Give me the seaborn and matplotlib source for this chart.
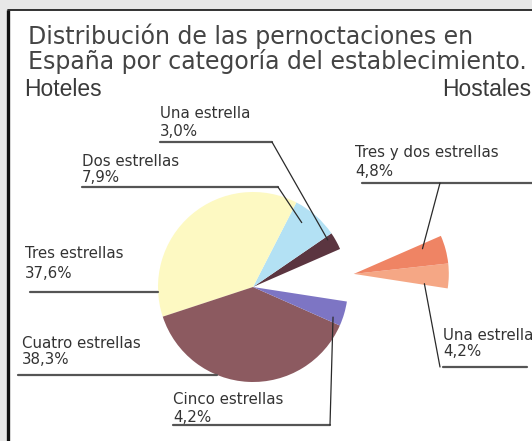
import matplotlib
matplotlib.use("Agg")
import matplotlib.pyplot as plt
from matplotlib.patches import Rectangle
import seaborn as sns
import numpy as np

# ---------------- data ----------------
title_lines = ["Distribución de las pernoctaciones en",
               "España por categoría del establecimiento."]
group_titles = ["Hoteles", "Hostales"]
categories = ["Una estrella", "Tres y dos estrellas", "Una estrella",
              "Dos estrellas", "Tres estrellas", "Cuatro estrellas",
              "Cinco estrellas"]
groups = ["Hostales", "Hostales", "Hoteles", "Hoteles", "Hoteles",
          "Hoteles", "Hoteles"]
shares = [4.2, 4.8, 3.0, 7.9, 37.6, 38.3, 4.2]
colors = ["#f5a785", "#ef8464", "#5b3540", "#b3e1f4", "#fdf9c2",
          "#8c5a60", "#7d75c4"]

# ---------------- figure ----------------
sns.set_theme(style="white")
plt.rcParams["font.family"] = ["DejaVu Sans"]
W, H = 532, 441
fig = plt.figure(figsize=(W / 100, H / 100), dpi=100)
fig.patch.set_facecolor("#e8e8e8")
ax = fig.add_axes([0, 0, 1, 1])
ax.set_facecolor("none")


def Y(y):
    return H - y


# white panel with dark frame (left/top)
ax.add_patch(Rectangle((8, 0), W - 8, Y(10), fc="white", ec="none", zorder=0))
ax.plot([8, 8], [0, Y(10)], color="#111111", lw=2.4, zorder=1,
        solid_capstyle="butt")
ax.plot([8, W], [Y(10), Y(10)], color="#222222", lw=1.3, zorder=1)

# pie
cx, cy, R = 253, Y(287), 95
start = -8.8
wedges, _ = ax.pie(shares, colors=colors, startangle=start, radius=R,
                   center=(cx, cy), counterclock=True, frame=True,
                   wedgeprops=dict(linewidth=0))
# pull the two hostal slices out together to the right
hostal_idx = [i for i, g in enumerate(groups) if g == "Hostales"]
frac = sum(shares[i] for i in hostal_idx) / sum(shares)
mid = np.deg2rad(start + frac * 360 / 2)
off = 1.07 * R
for i in hostal_idx:
    wedges[i].set_center((cx + off * np.cos(mid), cy + off * np.sin(mid)))

ax.set_xlim(0, W)
ax.set_ylim(0, H)
ax.set_aspect("equal")
ax.axis("off")


def anchor(i, t, rf):
    w = wedges[i]
    th = np.deg2rad(w.theta1 + t * (w.theta2 - w.theta1))
    c = w.center
    return c[0] + rf * w.r * np.cos(th), c[1] + rf * w.r * np.sin(th)


def edge_x(yimg):
    dy = Y(yimg) - cy
    return cx - np.sqrt(max(R ** 2 - dy ** 2, 0))


def pct(v):
    return f"{v:.1f}".replace(".", ",") + "%"


# titles
tcol = "#444444"
ax.text(28, Y(36), title_lines[0], fontsize=17, color=tcol, va="center",
        ha="left")
ax.text(28, Y(62), title_lines[1], fontsize=17, color=tcol, va="center",
        ha="left")
ax.text(24, Y(89), group_titles[0], fontsize=16.5, color="#3a3a3a",
        va="center", ha="left", family=["Liberation Sans", "DejaVu Sans"])
ax.text(531, Y(89), group_titles[1], fontsize=16.5, color="#3a3a3a",
        va="center", ha="right", family=["Liberation Sans", "DejaVu Sans"])

lcol = "#333333"
ucol = "#555555"
fs = 10.8
# label specs: idx, text x, name y, pct y, underline y, underline x0,
#              elbow x (None -> horizontal to pie edge), t, rf
specs = [
    (2, 160, 114, 132, 142, 160, 272, 0.8, 0.93),
    (3, 82, 162, 178, 187, 82, 278, 0.65, 0.85),
    (4, 25, 254, 273, 292, 30, None, None, None),
    (5, 22, 343, 359, 375, 18, None, None, None),
    (6, 173, 400, 417, 425, 173, 330, 0.22, 0.9),
    (1, 355, 153, 172, 183, 362, 440, 0.8, 0.77),
    (0, 443, 335, 352, 367, 443, 440, 0.06, 0.75),
]
for idx, tx, ny, py, uy, ux0, ex, t, rf in specs:
    ax.text(tx, Y(ny), categories[idx], fontsize=fs, color=lcol,
            va="center", ha="left")
    ax.text(tx, Y(py), pct(shares[idx]), fontsize=fs, color=lcol,
            va="center", ha="left")
    if ex is None:
        ax.plot([ux0, edge_x(uy)], [Y(uy), Y(uy)], color=ucol, lw=1.6,
                zorder=3)
    else:
        ux1 = W if idx == 1 else (527 if idx == 0 else ex)
        ax.plot([ux0, ux1], [Y(uy), Y(uy)], color=ucol, lw=1.6, zorder=3)
        ax2x, ax2y = anchor(idx, t, rf)
        ax.plot([ex, ax2x], [Y(uy), ax2y], color="#2a2a2a", lw=0.9,
                zorder=3)

fig.savefig("out.png", dpi=100, facecolor=fig.get_facecolor())
